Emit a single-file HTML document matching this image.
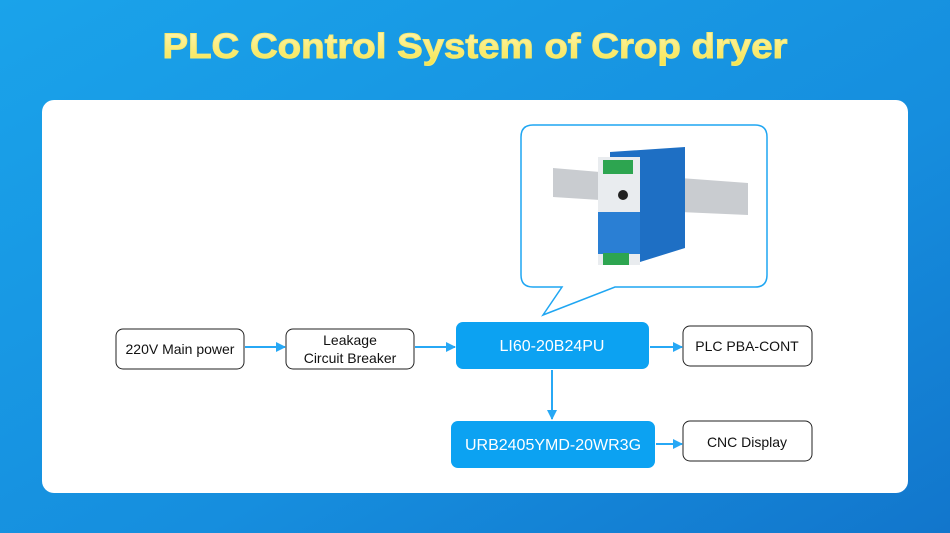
<!DOCTYPE html>
<html><head><meta charset="utf-8"><style>
html,body{margin:0;padding:0;width:950px;height:533px;overflow:hidden}
</style></head><body>
<svg width="950" height="533" viewBox="0 0 950 533" xmlns="http://www.w3.org/2000/svg" font-family="Liberation Sans, sans-serif">
<defs>
<linearGradient id="bg" x1="0" y1="0" x2="1" y2="1">
<stop offset="0" stop-color="#1aa3ea"/><stop offset="0.6" stop-color="#168ede"/><stop offset="1" stop-color="#1276cc"/>
</linearGradient>
<linearGradient id="tt" x1="0" y1="0" x2="0" y2="1">
<stop offset="0" stop-color="#fff6b8"/><stop offset="1" stop-color="#f5e44a"/>
</linearGradient>
<marker id="ar" markerWidth="10" markerHeight="10" refX="9" refY="5" orient="auto" markerUnits="userSpaceOnUse">
<path d="M0,0 L10,5 L0,10 z" fill="#27a8f5"/>
</marker>
</defs>
<rect width="950" height="533" fill="url(#bg)"/>
<text x="475" y="58" text-anchor="middle" font-size="35" font-weight="bold" fill="url(#tt)" stroke="#f7ea70" stroke-width="1" textLength="625" lengthAdjust="spacingAndGlyphs">PLC Control System of Crop dryer</text>
<rect x="42" y="100" width="866" height="393" rx="12" fill="#fff"/>
<path d="M533,125 H755 Q767,125 767,137 V275 Q767,287 755,287 H615 L543,315 L562,287 H533 Q521,287 521,275 V137 Q521,125 533,125 Z" fill="#fff" stroke="#1fa6f2" stroke-width="1.5"/>
<g>
<polygon points="553,168 600,172 600,200 553,197" fill="#c9ccd0"/>
<polygon points="680,178 748,183 748,215 680,212" fill="#c9ccd0"/>
<polygon points="610,152 685,147 685,248 640,262 610,262" fill="#1e6fc4"/>
<rect x="598" y="157" width="42" height="108" fill="#e9ecef"/>
<rect x="598" y="212" width="42" height="42" fill="#2a7fd4"/>
<rect x="603" y="160" width="30" height="14" fill="#2da550"/>
<rect x="603" y="253" width="26" height="12" fill="#2da550"/>
<circle cx="623" cy="195" r="5" fill="#222"/>
</g>
<g font-size="14" fill="#111" text-anchor="middle">
<rect x="116" y="329" width="128" height="40" rx="7" fill="#fff" stroke="#222" stroke-width="1"/>
<text x="180" y="354">220V Main power</text>
<rect x="286" y="329" width="128" height="40" rx="7" fill="#fff" stroke="#222" stroke-width="1"/>
<text x="350" y="345">Leakage</text>
<text x="350" y="363">Circuit Breaker</text>
<rect x="683" y="326" width="129" height="40" rx="7" fill="#fff" stroke="#222" stroke-width="1"/>
<text x="747" y="351">PLC PBA-CONT</text>
<rect x="683" y="421" width="129" height="40" rx="7" fill="#fff" stroke="#222" stroke-width="1"/>
<text x="747" y="447">CNC Display</text>
</g>
<rect x="456" y="322" width="193" height="47" rx="7" fill="#0ca2f2"/>
<text x="552" y="351" text-anchor="middle" font-size="16" fill="#fff">LI60-20B24PU</text>
<rect x="451" y="421" width="204" height="47" rx="7" fill="#0ca2f2"/>
<text x="553" y="450" text-anchor="middle" font-size="16" fill="#fff">URB2405YMD-20WR3G</text>
<g stroke="#27a8f5" stroke-width="2" fill="none" marker-end="url(#ar)">
<line x1="245" y1="347" x2="285" y2="347"/>
<line x1="415" y1="347" x2="455" y2="347"/>
<line x1="650" y1="347" x2="682" y2="347"/>
<line x1="552" y1="370" x2="552" y2="419"/>
<line x1="656" y1="444" x2="682" y2="444"/>
</g>
</svg>
</body></html>
